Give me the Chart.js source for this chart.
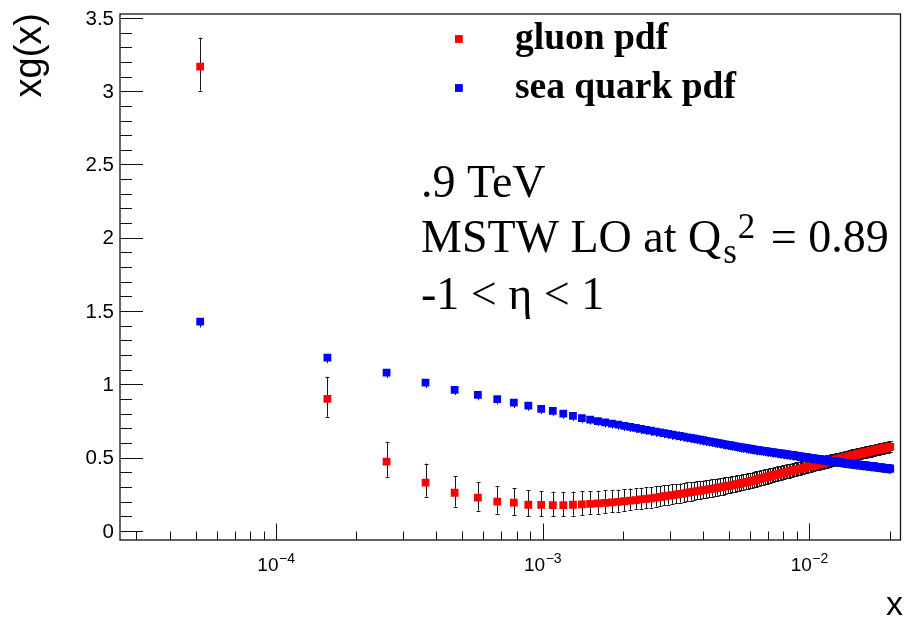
<!DOCTYPE html>
<html>
<head>
<meta charset="utf-8">
<script src="https://cdn.jsdelivr.net/npm/chart.js@4.4.1/dist/chart.umd.min.js"></script>
<style>
html, body { margin: 0; padding: 0; background: #fff; }
#wrap { width: 906px; height: 618px; }
</style>
</head>
<body>
<div id="wrap"><canvas id="myChart" width="906" height="618"></canvas></div>
<script>
// x bins
const xValues = [
0.000052,0.000156,0.00026,0.000364,0.000468,0.000572,0.000676,0.00078,0.000884,0.000988,
0.001092,0.001196,0.0013,0.001404,0.001508,0.001612,0.001716,0.00182,0.001924,0.002028,
0.002132,0.002236,0.00234,0.002444,0.002548,0.002652,0.002756,0.00286,0.002964,0.003068,
0.003172,0.003276,0.00338,0.003484,0.003588,0.003692,0.003796,0.0039,0.004004,0.004108,
0.004212,0.004316,0.00442,0.004524,0.004628,0.004732,0.004836,0.00494,0.005044,0.005148,
0.005252,0.005356,0.00546,0.005564,0.005668,0.005772,0.005876,0.00598,0.006084,0.006188,
0.006292,0.006396,0.0065,0.006604,0.006708,0.006812,0.006916,0.00702,0.007124,0.007228,
0.007332,0.007436,0.00754,0.007644,0.007748,0.007852,0.007956,0.00806,0.008164,0.008268,
0.008372,0.008476,0.00858,0.008684,0.008788,0.008892,0.008996,0.0091,0.009204,0.009308,
0.009412,0.009516,0.00962,0.009724,0.009828,0.009932,0.010036,0.01014,0.010244,0.010348,
0.010452,0.010556,0.01066,0.010764,0.010868,0.010972,0.011076,0.01118,0.011284,0.011388,
0.011492,0.011596,0.0117,0.011804,0.011908,0.012012,0.012116,0.01222,0.012324,0.012428,
0.012532,0.012636,0.01274,0.012844,0.012948,0.013052,0.013156,0.01326,0.013364,0.013468,
0.013572,0.013676,0.01378,0.013884,0.013988,0.014092,0.014196,0.0143,0.014404,0.014508,
0.014612,0.014716,0.01482,0.014924,0.015028,0.015132,0.015236,0.01534,0.015444,0.015548,
0.015652,0.015756,0.01586,0.015964,0.016068,0.016172,0.016276,0.01638,0.016484,0.016588,
0.016692,0.016796,0.0169,0.017004,0.017108,0.017212,0.017316,0.01742,0.017524,0.017628,
0.017732,0.017836,0.01794,0.018044,0.018148,0.018252,0.018356,0.01846,0.018564,0.018668,
0.018772,0.018876,0.01898,0.019084,0.019188,0.019292,0.019396,0.0195,0.019604,0.019708,
0.019812,0.019916,0.02002,0.020124
];

// gluon xg(x)
const gluonValues = [
3.167,0.902,0.473,0.330,0.261,0.227,0.200,0.193,0.179,0.178,
0.177,0.177,0.179,0.181,0.185,0.188,0.192,0.195,0.199,0.203,
0.207,0.211,0.215,0.219,0.223,0.228,0.232,0.237,0.241,0.245,
0.249,0.253,0.257,0.261,0.265,0.268,0.272,0.275,0.278,0.281,
0.285,0.288,0.291,0.294,0.297,0.300,0.304,0.307,0.310,0.313,
0.316,0.320,0.323,0.326,0.329,0.332,0.335,0.339,0.342,0.346,
0.349,0.353,0.356,0.359,0.362,0.365,0.368,0.371,0.374,0.377,
0.380,0.382,0.385,0.388,0.390,0.393,0.396,0.398,0.401,0.403,
0.406,0.408,0.410,0.413,0.415,0.418,0.420,0.422,0.424,0.426,
0.429,0.431,0.433,0.435,0.437,0.439,0.441,0.443,0.445,0.447,
0.449,0.451,0.453,0.454,0.456,0.458,0.460,0.462,0.464,0.466,
0.468,0.469,0.471,0.473,0.475,0.476,0.478,0.480,0.481,0.483,
0.485,0.487,0.488,0.490,0.492,0.493,0.495,0.497,0.498,0.500,
0.501,0.503,0.504,0.506,0.507,0.509,0.510,0.512,0.513,0.515,
0.516,0.517,0.519,0.520,0.521,0.523,0.524,0.525,0.527,0.528,
0.529,0.531,0.532,0.533,0.534,0.536,0.537,0.538,0.539,0.540,
0.541,0.542,0.543,0.544,0.545,0.546,0.547,0.548,0.550,0.551,
0.552,0.553,0.554,0.555,0.556,0.557,0.558,0.559,0.560,0.561,
0.562,0.563,0.564,0.565,0.566,0.567,0.568,0.569,0.570,0.571,
0.572,0.573,0.574,0.575
];
const gluonErrUp = [
0.198,0.150,0.136,0.130,0.111,0.107,0.105,0.098,0.098,0.093,
0.092,0.091,0.090,0.089,0.088,0.087,0.086,0.085,0.084,0.083,
0.082,0.081,0.080,0.079,0.078,0.077,0.076,0.075,0.074,0.073,
0.072,0.071,0.070,0.070,0.069,0.068,0.068,0.067,0.066,0.066,
0.065,0.065,0.064,0.064,0.063,0.063,0.062,0.062,0.061,0.061,
0.060,0.060,0.059,0.059,0.059,0.058,0.058,0.058,0.057,0.057,
0.057,0.056,0.056,0.056,0.055,0.055,0.055,0.054,0.054,0.054,
0.053,0.053,0.053,0.053,0.052,0.052,0.052,0.052,0.051,0.051,
0.051,0.051,0.050,0.050,0.050,0.050,0.049,0.049,0.049,0.049,
0.048,0.048,0.048,0.048,0.048,0.047,0.047,0.047,0.047,0.047,
0.047,0.047,0.047,0.046,0.046,0.046,0.046,0.045,0.045,0.045,
0.045,0.045,0.044,0.044,0.044,0.044,0.044,0.043,0.043,0.043,
0.043,0.043,0.043,0.042,0.042,0.042,0.042,0.042,0.042,0.041,
0.041,0.041,0.041,0.041,0.041,0.041,0.041,0.041,0.041,0.041,
0.041,0.041,0.040,0.040,0.040,0.040,0.040,0.040,0.040,0.040,
0.040,0.040,0.040,0.040,0.040,0.040,0.040,0.040,0.040,0.040,
0.040,0.040,0.039,0.039,0.039,0.039,0.039,0.039,0.039,0.039,
0.039,0.039,0.039,0.039,0.039,0.039,0.039,0.039,0.039,0.039,
0.039,0.039,0.038,0.038,0.038,0.038,0.038,0.038,0.038,0.038,
0.038,0.038,0.038,0.038
];
const gluonErrDown = [
0.164,0.123,0.105,0.096,0.095,0.089,0.082,0.084,0.078,0.077,
0.076,0.075,0.074,0.072,0.071,0.070,0.069,0.068,0.067,0.066,
0.065,0.064,0.064,0.063,0.063,0.062,0.062,0.061,0.061,0.060,
0.060,0.059,0.059,0.058,0.058,0.057,0.057,0.056,0.056,0.055,
0.055,0.054,0.054,0.053,0.053,0.052,0.052,0.051,0.051,0.050,
0.050,0.050,0.049,0.049,0.049,0.048,0.048,0.048,0.047,0.047,
0.047,0.046,0.046,0.046,0.045,0.045,0.045,0.045,0.044,0.044,
0.044,0.044,0.043,0.043,0.043,0.043,0.042,0.042,0.042,0.042,
0.042,0.041,0.041,0.041,0.041,0.041,0.040,0.040,0.040,0.040,
0.040,0.040,0.039,0.039,0.039,0.039,0.039,0.039,0.039,0.038,
0.038,0.038,0.038,0.038,0.038,0.038,0.038,0.038,0.038,0.038,
0.038,0.038,0.038,0.037,0.037,0.037,0.037,0.037,0.037,0.037,
0.037,0.037,0.037,0.037,0.037,0.037,0.037,0.037,0.037,0.037,
0.037,0.037,0.036,0.036,0.036,0.036,0.036,0.036,0.036,0.036,
0.036,0.036,0.036,0.036,0.036,0.036,0.036,0.036,0.036,0.036,
0.036,0.036,0.036,0.036,0.036,0.036,0.036,0.036,0.036,0.036,
0.036,0.036,0.036,0.036,0.036,0.036,0.036,0.036,0.036,0.036,
0.036,0.036,0.036,0.036,0.036,0.036,0.036,0.036,0.036,0.036,
0.036,0.036,0.036,0.036,0.036,0.036,0.036,0.036,0.036,0.036,
0.036,0.036,0.036,0.036
];

// sea quark xq(x)
const seaValues = [
1.428,1.182,1.080,1.012,0.963,0.928,0.900,0.875,0.855,0.833,
0.820,0.801,0.785,0.770,0.760,0.750,0.741,0.733,0.725,0.717,
0.710,0.703,0.696,0.690,0.684,0.678,0.673,0.668,0.662,0.657,
0.653,0.648,0.644,0.639,0.635,0.631,0.627,0.623,0.619,0.615,
0.611,0.608,0.604,0.601,0.598,0.594,0.591,0.588,0.585,0.582,
0.579,0.576,0.573,0.571,0.568,0.565,0.563,0.561,0.558,0.556,
0.554,0.552,0.551,0.549,0.547,0.545,0.543,0.541,0.540,0.538,
0.536,0.535,0.533,0.531,0.530,0.528,0.527,0.525,0.524,0.522,
0.521,0.520,0.518,0.517,0.516,0.514,0.512,0.511,0.509,0.508,
0.507,0.506,0.504,0.503,0.502,0.500,0.499,0.498,0.497,0.496,
0.494,0.493,0.492,0.491,0.490,0.489,0.488,0.487,0.486,0.485,
0.483,0.482,0.481,0.480,0.479,0.478,0.477,0.476,0.475,0.474,
0.473,0.472,0.471,0.471,0.470,0.469,0.468,0.467,0.466,0.465,
0.464,0.463,0.462,0.462,0.461,0.460,0.459,0.459,0.458,0.457,
0.457,0.456,0.455,0.455,0.454,0.453,0.453,0.452,0.451,0.451,
0.450,0.449,0.449,0.448,0.448,0.447,0.446,0.446,0.445,0.444,
0.444,0.443,0.443,0.442,0.441,0.441,0.440,0.440,0.439,0.439,
0.438,0.437,0.437,0.436,0.436,0.435,0.435,0.434,0.433,0.433,
0.432,0.432,0.431,0.431,0.430,0.430,0.429,0.429,0.428,0.428,
0.427,0.426,0.426,0.425
];
// upper sea errors sit under the markers; only the lower ones show
const seaErrDown = [
0.040,0.038,0.037,0.037,0.036,0.036,0.036,0.036,0.035,0.035,
0.035,0.035,0.035,0.035,0.035,0.035,0.035,0.035,0.035,0.035,
0.035,0.035,0.035,0.035,0.035,0.035,0.035,0.035,0.035,0.035,
0.035,0.035,0.035,0.035,0.035,0.035,0.035,0.035,0.035,0.035,
0.035,0.035,0.035,0.035,0.035,0.035,0.035,0.035,0.035,0.035,
0.035,0.035,0.035,0.035,0.035,0.035,0.035,0.035,0.035,0.035,
0.035,0.035,0.035,0.035,0.035,0.035,0.035,0.035,0.035,0.035,
0.035,0.035,0.035,0.035,0.035,0.035,0.035,0.035,0.035,0.035,
0.035,0.035,0.035,0.035,0.035,0.035,0.035,0.035,0.035,0.035,
0.035,0.035,0.035,0.035,0.035,0.035,0.035,0.035,0.035,0.035,
0.034,0.034,0.034,0.034,0.034,0.034,0.034,0.034,0.034,0.034,
0.034,0.034,0.034,0.034,0.034,0.034,0.034,0.034,0.034,0.034,
0.034,0.034,0.034,0.034,0.034,0.034,0.034,0.034,0.034,0.034,
0.034,0.034,0.034,0.034,0.034,0.034,0.034,0.034,0.034,0.034,
0.034,0.034,0.034,0.034,0.034,0.034,0.034,0.034,0.034,0.034,
0.034,0.034,0.034,0.034,0.034,0.034,0.034,0.034,0.034,0.034,
0.034,0.034,0.034,0.034,0.034,0.034,0.034,0.034,0.034,0.034,
0.034,0.034,0.034,0.034,0.034,0.034,0.034,0.034,0.034,0.034,
0.034,0.034,0.034,0.034,0.034,0.034,0.034,0.034,0.034,0.034,
0.034,0.034,0.034,0.034
];

const yTickValues = [0, 0.5, 1, 1.5, 2, 2.5, 3, 3.5];
const yTickLabels = ['0', '0.5', '1', '1.5', '2', '2.5', '3', '3.5'];
const xTickValues = [1e-4, 1e-3, 1e-2];
const xTickExponents = ['\u22124', '\u22123', '\u22122'];
const seriesNames = ['gluon pdf', 'sea quark pdf'];

const SANS = '"Liberation Sans", Arial, sans-serif';
const SERIF = '"Liberation Serif", "Times New Roman", serif';

function drawErrorBars(chart, values, up, down, caps) {
    const ctx = chart.ctx;
    const xs = chart.scales.x, ys = chart.scales.y;
    ctx.save();
    ctx.strokeStyle = '#1a1a1a';
    ctx.lineWidth = 1;
    ctx.beginPath();
    for (let i = 0; i < xValues.length; i++) {
        const px = Math.round(xs.getPixelForValue(xValues[i])) + 0.5;
        const yTop = ys.getPixelForValue(values[i] + (up ? up[i] : 0));
        const yBot = ys.getPixelForValue(values[i] - down[i]);
        ctx.moveTo(px, yTop);
        ctx.lineTo(px, yBot);
        if (caps) {
            ctx.moveTo(px - 2, Math.round(yTop) + 0.5);
            ctx.lineTo(px + 2, Math.round(yTop) + 0.5);
            ctx.moveTo(px - 2, Math.round(yBot) + 0.5);
            ctx.lineTo(px + 2, Math.round(yBot) + 0.5);
        }
    }
    ctx.stroke();
    ctx.restore();
}

const rootStyle = {
    id: 'rootStyle',
    beforeDatasetDraw(chart, args) {
        if (args.index === 0) drawErrorBars(chart, gluonValues, gluonErrUp, gluonErrDown, true);
        if (args.index === 1) drawErrorBars(chart, seaValues, null, seaErrDown, false);
    },
    afterDraw(chart) {
        const ctx = chart.ctx;
        const a = chart.chartArea;
        const xs = chart.scales.x, ys = chart.scales.y;
        ctx.save();

        // frame
        ctx.strokeStyle = '#111';
        ctx.lineWidth = 1.3;
        ctx.strokeRect(a.left, a.top, a.right - a.left, a.bottom - a.top);

        // y ticks
        ctx.lineWidth = 1;
        ctx.beginPath();
        for (let i = 0; i <= 35; i++) {
            const py = Math.round(ys.getPixelForValue(i / 10)) + 0.5;
            const len = (i % 5 === 0) ? 23 : 12;
            ctx.moveTo(a.left, py);
            ctx.lineTo(a.left + len, py);
        }
        // x ticks
        for (let e = -5; e <= -2; e++) {
            for (let m = 1; m <= 9; m++) {
                const v = m * Math.pow(10, e);
                if (v < xs.min || v > xs.max) continue;
                const px = Math.round(xs.getPixelForValue(v)) + 0.5;
                const len = (m === 1) ? 16.5 : 8.5;
                ctx.moveTo(px, a.bottom);
                ctx.lineTo(px, a.bottom - len);
            }
        }
        ctx.stroke();

        // y tick labels
        ctx.fillStyle = '#000';
        ctx.font = '20.5px ' + SANS;
        ctx.textAlign = 'right';
        ctx.textBaseline = 'middle';
        yTickValues.forEach((v, i) => {
            ctx.fillText(yTickLabels[i], a.left - 6, ys.getPixelForValue(v) + 1);
        });

        // x tick labels 10^n
        ctx.textAlign = 'left';
        ctx.textBaseline = 'alphabetic';
        xTickValues.forEach((v, i) => {
            const px = xs.getPixelForValue(v);
            ctx.font = '19px ' + SANS;
            const w1 = ctx.measureText('10').width;
            ctx.font = '14px ' + SANS;
            const w2 = ctx.measureText(xTickExponents[i]).width;
            const x0 = px - (w1 + w2) / 2;
            ctx.font = '19px ' + SANS;
            ctx.fillText('10', x0, 571);
            ctx.font = '14px ' + SANS;
            ctx.fillText(xTickExponents[i], x0 + w1 + 0.5, 563);
        });

        // axis titles
        ctx.font = '34px ' + SANS;
        ctx.textAlign = 'right';
        ctx.fillText('x', 903, 615);
        ctx.save();
        ctx.translate(41, 13);
        ctx.rotate(-Math.PI / 2);
        ctx.font = '38px ' + SANS;
        ctx.textAlign = 'right';
        ctx.fillText('xg(x)', 0, 0);
        ctx.restore();

        // legend
        const colors = ['#ff0000', '#0000ff'];
        const legY = [39, 88];
        ctx.textAlign = 'left';
        ctx.font = 'bold 37.5px ' + SERIF;
        seriesNames.forEach((name, i) => {
            ctx.fillStyle = colors[i];
            ctx.fillRect(455, legY[i] - 3.9, 7.8, 7.8);
            ctx.fillStyle = '#000';
            ctx.fillText(name, 515, legY[i] + 10);
        });

        // annotation text
        const tx = 421;
        ctx.font = '46px ' + SERIF;
        ctx.fillText('.9 TeV', tx, 197);
        let x = tx;
        const base2 = 252;
        ctx.fillText('MSTW LO at Q', x, base2);
        x += ctx.measureText('MSTW LO at Q').width + 2;
        ctx.font = '35px ' + SERIF;
        ctx.fillText('s', x, base2 + 11);
        x += ctx.measureText('s').width + 1;
        ctx.fillText('2', x, base2 - 14);
        x += ctx.measureText('2').width + 4;
        ctx.font = '46px ' + SERIF;
        ctx.fillText(' = 0.89', x, base2);
        ctx.fillText('-1 < \u03b7 < 1', tx, 309);

        ctx.restore();
    }
};

function prepareData() {
    return {
        datasets: [
            {
                label: seriesNames[0],
                data: xValues.map((x, i) => ({ x: x, y: gluonValues[i] })),
                backgroundColor: '#ff0000',
                borderWidth: 0,
                pointStyle: 'rect',
                pointRadius: 5.5,
                pointHoverRadius: 5.5,
                order: 2
            },
            {
                label: seriesNames[1],
                data: xValues.map((x, i) => ({ x: x, y: seaValues[i] })),
                backgroundColor: '#0000ff',
                borderWidth: 0,
                pointStyle: 'rect',
                pointRadius: 5.5,
                pointHoverRadius: 5.5,
                order: 1
            }
        ]
    };
}

function drawChart(data) {
    const ctx = document.getElementById('myChart').getContext('2d');
    new Chart(ctx, {
        type: 'scatter',
        data: data,
        plugins: [rootStyle],
        options: {
            responsive: false,
            animation: false,
            devicePixelRatio: 1,
            events: [],
            layout: { padding: { left: 120, top: 14, right: 2, bottom: 78 } },
            plugins: { legend: { display: false }, tooltip: { enabled: false } },
            scales: {
                x: { type: 'logarithmic', min: 2.602e-5, max: 0.02199, display: false },
                y: { type: 'linear', min: -0.0614, max: 3.5266, display: false }
            }
        }
    });
}

drawChart(prepareData());
</script>
</body>
</html>
